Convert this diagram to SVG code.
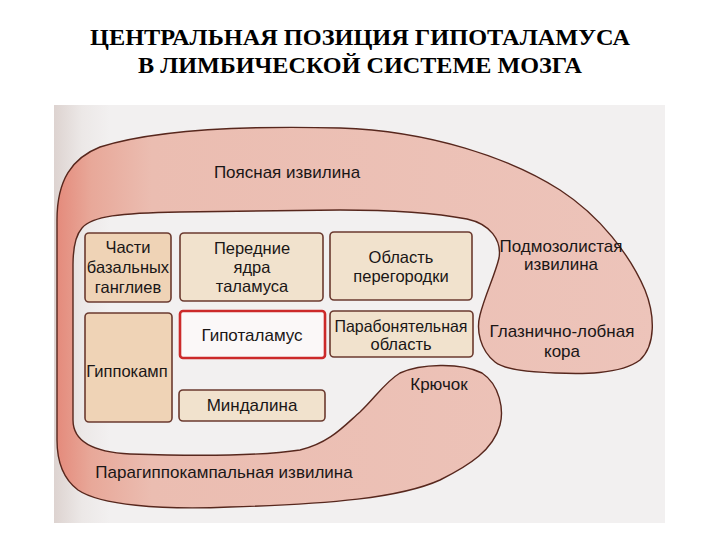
<svg xmlns="http://www.w3.org/2000/svg" width="720" height="540" viewBox="0 0 720 540">
<defs>
<linearGradient id="pageGrad" gradientUnits="userSpaceOnUse" x1="54" y1="0" x2="110" y2="0">
<stop offset="0" stop-color="#ddd3d0"/>
<stop offset="0.5" stop-color="#ece8e7"/>
<stop offset="1" stop-color="#f2f0f0"/>
</linearGradient>
<linearGradient id="gyrusGrad" gradientUnits="userSpaceOnUse" x1="55" y1="0" x2="660" y2="0">
<stop offset="0" stop-color="#e4897a"/>
<stop offset="0.06" stop-color="#e8a899"/>
<stop offset="0.16" stop-color="#ebbdb1"/>
<stop offset="1" stop-color="#edc4ba"/>
</linearGradient>
<style>
.title{font-family:"Liberation Serif","Times New Roman",serif;font-weight:bold;font-size:24px;fill:#000;text-anchor:middle}
.lbl{font-family:"Liberation Sans",Arial,sans-serif;font-size:17px;fill:#1a1616;text-anchor:middle}
.bl{font-family:"Liberation Sans",Arial,sans-serif;font-size:16.5px;fill:#1a1616;text-anchor:middle}
.box{fill:#f1e2cd;stroke:#6b3a2f;stroke-width:1.6}
.box2{fill:#efd3b6;stroke:#6b3a2f;stroke-width:1.6}
.hyp{fill:#fbf8f8;stroke:#cc2a2a;stroke-width:2.6}
.gyrus{fill:url(#gyrusGrad);stroke:#57271d;stroke-width:1.4}
</style>
</defs>
<rect width="720" height="540" fill="#ffffff"/>
<rect x="54" y="105" width="611" height="418" fill="#f2f0f0"/>
<rect x="54" y="105" width="56" height="418" fill="url(#pageGrad)"/>

<g id="title">
<text class="title" x="360" y="45" textLength="540" lengthAdjust="spacingAndGlyphs">ЦЕНТРАЛЬНАЯ ПОЗИЦИЯ ГИПОТАЛАМУСА</text>
<text class="title" x="360" y="73" textLength="444" lengthAdjust="spacingAndGlyphs">В ЛИМБИЧЕСКОЙ СИСТЕМЕ МОЗГА</text>
</g>

<g id="limbic-gyrus">
<path class="gyrus" d="M 57,220 C 57,180 72,158 100,147 C 160,128 260,126 340,128 C 430,131 510,158 560,190 C 600,216 630,255 645,290 C 655,315 656,345 640,360 C 620,375 580,374 555,373 C 530,372 505,370 495,362 C 480,350 476,330 480,315 C 485,295 495,275 499,258 C 502,240 490,224 467,219 C 430,212 390,210 340,210 L 180,212 C 120,213 92,216 82,228 C 75,236 73,250 73,265 L 73,420 C 73,440 90,452 130,454 C 190,456 260,456 300,450 C 330,443 345,425 360,412 C 375,398 385,382 400,373 C 420,364 460,362 482,373 C 500,385 504,410 500,425 C 493,450 470,465 440,480 C 400,498 330,504 230,507 C 160,510 100,505 78,490 C 62,478 57,460 57,440 Z"/>
</g>

<g id="cingulate">
<text class="lbl" x="287" y="178">Поясная извилина</text>
</g>
<g id="subcallosal">
<text class="lbl" x="561" y="252">Подмозолистая</text>
<text class="lbl" x="561" y="270">извилина</text>
</g>
<g id="orbitofrontal">
<text class="lbl" x="562" y="337">Глазнично-лобная</text>
<text class="lbl" x="562" y="357">кора</text>
</g>
<g id="uncus">
<text class="lbl" x="439" y="390">Крючок</text>
</g>
<g id="parahippocampal">
<text class="lbl" x="224" y="478">Парагиппокампальная извилина</text>
</g>

<g id="basal-ganglia">
<rect class="box2" x="85" y="233" width="86" height="69" rx="4"/>
<text class="bl" x="128" y="253">Части</text>
<text class="bl" x="128" y="273">базальных</text>
<text class="bl" x="128" y="293">ганглиев</text>
</g>
<g id="anterior-thalamus">
<rect class="box" x="180" y="233" width="143" height="68" rx="4"/>
<text class="bl" x="252" y="254">Передние</text>
<text class="bl" x="252" y="273">ядра</text>
<text class="bl" x="252" y="292">таламуса</text>
</g>
<g id="septal-area">
<rect class="box" x="330" y="232" width="142" height="68" rx="4"/>
<text class="bl" x="401" y="263">Область</text>
<text class="bl" x="401" y="282">перегородки</text>
</g>
<g id="hippocampus">
<rect class="box2" x="85" y="313" width="87" height="109" rx="4"/>
<text class="bl" x="127" y="377">Гиппокамп</text>
</g>
<g id="hypothalamus">
<rect class="hyp" x="180" y="311" width="145" height="47" rx="3"/>
<text class="lbl" x="252" y="341">Гипоталамус</text>
</g>
<g id="paraolfactory">
<rect class="box" x="330" y="311" width="143" height="46" rx="4"/>
<text class="bl" x="401" y="332" textLength="133" lengthAdjust="spacingAndGlyphs">Парабонятельная</text>
<text class="bl" x="401" y="350">область</text>
</g>
<g id="amygdala">
<rect class="box" x="179" y="390" width="146" height="31" rx="4"/>
<text class="lbl" x="252" y="411">Миндалина</text>
</g>

<g id="connectors"/>
</svg>
